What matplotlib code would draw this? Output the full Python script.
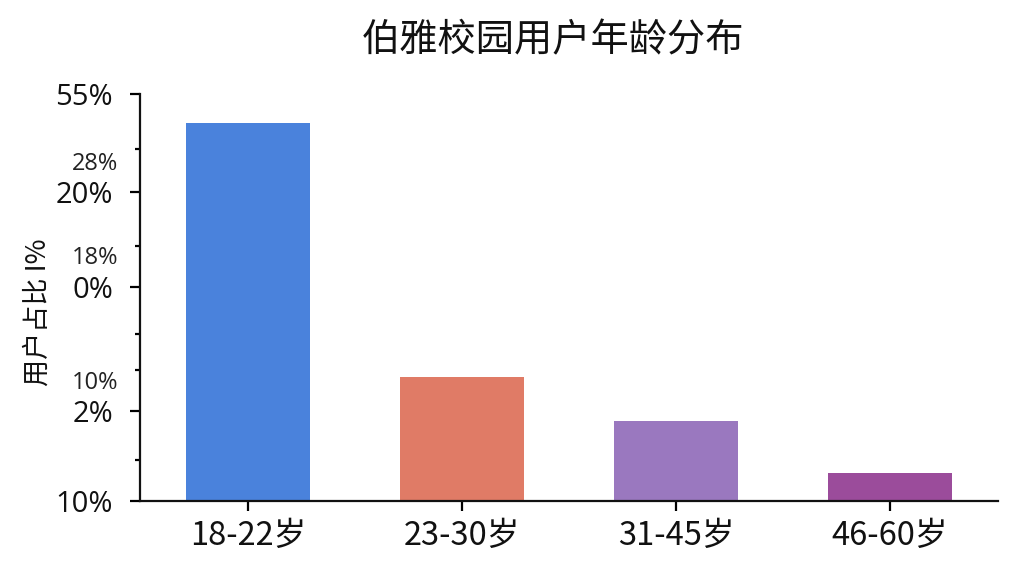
import matplotlib
matplotlib.use("Agg")
import matplotlib.pyplot as plt
import matplotlib.transforms as mtransforms
import numpy as np

plt.rcParams['font.family'] = ['Noto Sans CJK SC', 'DejaVu Sans']

# data (bar heights on a 0-55 scale)
age_groups = ['18-22岁', '23-30岁', '31-45岁', '46-60岁']
user_share = [51.1, 16.8, 10.8, 3.8]
bar_colors = ['#4a82dc', '#e07b66', '#9a78bf', '#9b4c9b']

# the y axis labels as printed (they do not follow a linear scale)
major_pos = [0, 12.2, 28.9, 41.7, 55]
major_labels = ['10%', '2%', '0%', '20%', '55%']
minor_pos = [5.5, 17.7, 22.6, 34.5, 47.6]
extra_pos = [45.5, 32.8, 15.9]
extra_labels = ['28%', '18%', '10%']

title = '伯雅校园用户年龄分布'
ylabel = '用户占比 I%'

fig = plt.figure(figsize=(10.24, 5.76), dpi=100)
ax = fig.add_axes([140/1024, 1 - 501/576, 858/1024, 407/576])

x = np.arange(len(age_groups))
ax.bar(x, user_share, width=0.58, color=bar_colors)

ax.set_xlim(-0.505, 3.505)
ax.set_ylim(0, 55)

for s in ['top', 'right']:
    ax.spines[s].set_visible(False)
for s in ['left', 'bottom']:
    ax.spines[s].set_linewidth(1.6)
    ax.spines[s].set_color('#111111')

ax.set_xticks(x)
ax.set_xticklabels(age_groups, fontsize=23.5, color='#111111')
ax.tick_params(axis='x', length=7, width=1.6, pad=7)

ax.set_yticks(major_pos)
ax.set_yticklabels(major_labels, fontfamily='Open Sans', fontsize=21, color='#111111')
ax.set_yticks(minor_pos, minor=True)
ax.tick_params(axis='y', which='major', length=7.5, width=1.6, pad=12)
ax.tick_params(axis='y', which='minor', length=3.5, width=1.6)

trans = mtransforms.blended_transform_factory(fig.transFigure, ax.transData)
for yv, lab in zip(extra_pos, extra_labels):
    ax.text(118/1024, yv, lab, transform=trans, ha='right', va='center',
            fontfamily='Open Sans', fontsize=17, color='#222222')

fig.text(553/1024, 1 - 41/576, title, ha='center', va='center',
         fontsize=27.5, fontweight='medium', color='#111111')
fig.text(38/1024, 1 - 312/576, ylabel, ha='center', va='center',
         rotation=90, fontsize=19.5, color='#111111')

fig.savefig('out.png', dpi=100)
